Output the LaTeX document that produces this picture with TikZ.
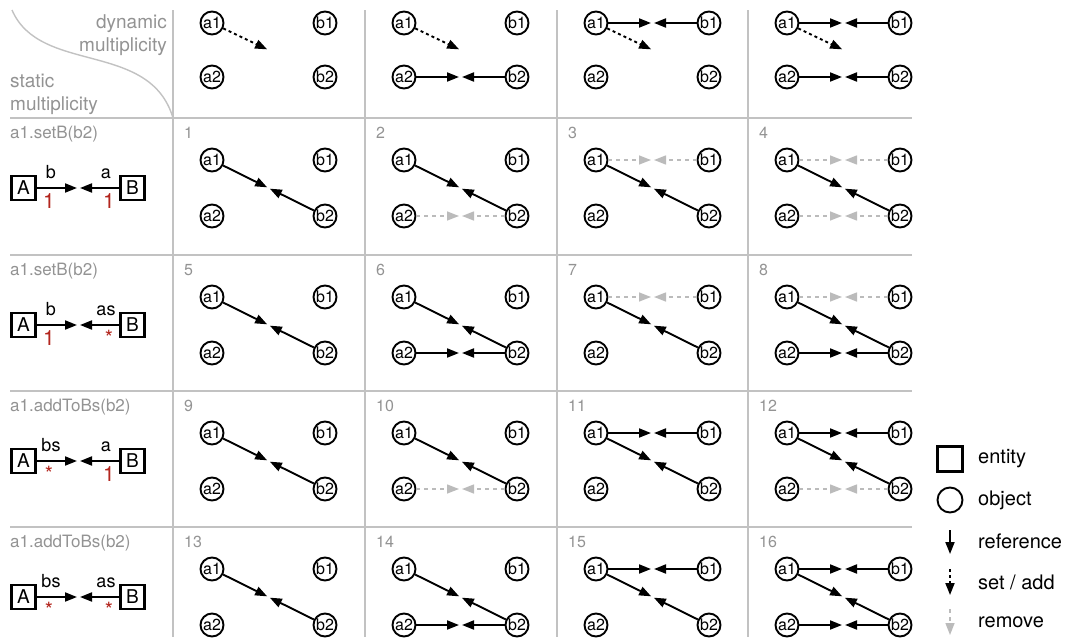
\documentclass[tikz,border=0pt]{standalone}
\usepackage{fontspec}
\setmainfont{TeX Gyre Heros}
\usetikzlibrary{arrows.meta}
\definecolor{gridgray}{HTML}{C2C2C2}
\definecolor{labelgray}{HTML}{939393}
\definecolor{remgray}{HTML}{BBBBBB}
\definecolor{multred}{HTML}{B3261E}
\newcommand{\fsz}[1]{\fontsize{#1}{#1}\selectfont}

\newcommand{\objs}[2]{%
  \node[obj] (a1) at (39,#1) {a1};
  \node[obj] (b1) at (152,#1) {b1};
  \node[obj] (a2) at (39,#2) {a2};
  \node[obj] (b2) at (152,#2) {b2};
  \coordinate (mt) at (95.5,#1);
  \coordinate (mb) at (95.5,#2);
  \path (mt) -- (mb) coordinate[midway] (md);}
\newcommand{\link}[4]{\draw[#1] (#2) -- (#4); \draw[#1] (#3) -- (#4);}
\newcommand{\head}[2]{%
  \begin{scope}[shift={(#1,0)},name prefix=h#1-]
    \objs{23}{77}
    #2
    \draw[setadd] (a1) -- (md);
  \end{scope}}
\newcommand{\cell}[4]{%
  \begin{scope}[shift={(#1,#2)},name prefix=c#3-]
    \node[cellnum] (num) at (11,20) {#3};
    \objs{42}{98}
    \link{ref}{a1}{b2}{md}
    #4
  \end{scope}}
\newcommand{\entity}[7]{%
  \begin{scope}[shift={(0,#2)},name prefix=#1-]
    \node[call] (call) at (10,20) {#3};
    \node[ent] (A) at (23.5,70) {A};
    \node[ent] (B) at (132.5,70) {B};
    \coordinate (m) at (78.5,70);
    \draw[ref] (A) -- (m); \draw[ref] (B) -- (m);
    \node[role] (roleA) at (51,60) {#4};
    \node[mult] (multA) at (49,75) {#5};
    \node[role] (roleB) at (106,60) {#6};
    \node[mult] (multB) at (109,75) {#7};
  \end{scope}}

\begin{document}
\begin{tikzpicture}[x=1pt,y=-1pt,
  obj/.style={draw,circle,line width=1.9pt,minimum size=23pt,inner sep=0pt,font=\fsz{16}},
  ent/.style={draw,rectangle,line width=2.5pt,minimum size=24pt,inner sep=0pt,font=\fsz{19}},
  ref/.style={line width=1.9pt,-{Triangle[length=12pt,width=9pt]},shorten >=1.5pt},
  setadd/.style={ref,dash pattern=on 3pt off 3pt},
  rem/.style={ref,line width=1.4pt,color=remgray,dash pattern=on 4pt off 4pt},
  grid/.style={draw=gridgray,line width=1.8pt},
  cellnum/.style={anchor=base west,inner sep=0pt,text=labelgray,font=\fsz{16}},
  call/.style={anchor=base west,inner sep=0pt,text=labelgray,font=\fsz{17}},
  head/.style={inner sep=0pt,text=labelgray,font=\fsz{19}},
  role/.style={anchor=base,inner sep=0pt,font=\fsz{18}},
  mult/.style={anchor=north,inner sep=0pt,text=multred,font=\fsz{21}},
  lgtext/.style={anchor=west,inner sep=0pt,font=\fsz{20}}]
 \useasboundingbox (0,0) rectangle (1070,637);
 \foreach \y in {118,255,391,527} \draw[grid] (10,\y) -- (912,\y);
 \foreach \x in {173,365,557,748} \draw[grid] (\x,10) -- (\x,637);
 \draw[grid,line width=1.4pt] (12,10) .. controls (40,75) and (150,40) .. (173,118);
 \node[head,anchor=base east] (dyn1) at (167,28) {dynamic};
 \node[head,anchor=base east] (dyn2) at (167,51) {multiplicity};
 \node[head,anchor=base west] (stat1) at (10,87) {static};
 \node[head,anchor=base west] (stat2) at (10,110) {multiplicity};

 \head{173}{}
 \head{365}{\link{ref}{a2}{b2}{mb}}
 \head{557}{\link{ref}{a1}{b1}{mt}}
 \head{748}{\link{ref}{a1}{b1}{mt}\link{ref}{a2}{b2}{mb}}

 \entity{r1}{118}{a1.setB(b2)}{b}{1}{a}{1}
 \entity{r2}{255}{a1.setB(b2)}{b}{1}{as}{*}
 \entity{r3}{391}{a1.addToBs(b2)}{bs}{*}{a}{1}
 \entity{r4}{527}{a1.addToBs(b2)}{bs}{*}{as}{*}

 \cell{173}{118}{1}{}
 \cell{365}{118}{2}{\link{rem}{a2}{b2}{mb}}
 \cell{557}{118}{3}{\link{rem}{a1}{b1}{mt}}
 \cell{748}{118}{4}{\link{rem}{a1}{b1}{mt}\link{rem}{a2}{b2}{mb}}
 \cell{173}{255}{5}{}
 \cell{365}{255}{6}{\link{ref}{a2}{b2}{mb}}
 \cell{557}{255}{7}{\link{rem}{a1}{b1}{mt}}
 \cell{748}{255}{8}{\link{rem}{a1}{b1}{mt}\link{ref}{a2}{b2}{mb}}
 \cell{173}{391}{9}{}
 \cell{365}{391}{10}{\link{rem}{a2}{b2}{mb}}
 \cell{557}{391}{11}{\link{ref}{a1}{b1}{mt}}
 \cell{748}{391}{12}{\link{ref}{a1}{b1}{mt}\link{rem}{a2}{b2}{mb}}
 \cell{173}{527}{13}{}
 \cell{365}{527}{14}{\link{ref}{a2}{b2}{mb}}
 \cell{557}{527}{15}{\link{ref}{a1}{b1}{mt}}
 \cell{748}{527}{16}{\link{ref}{a1}{b1}{mt}\link{ref}{a2}{b2}{mb}}

 \node[ent,minimum size=25pt] (lgent) at (950,459) {};
 \node[lgtext] (lgentT) at (978,459) {entity};
 \node[obj,minimum size=25pt] (lgobj) at (950,500) {};
 \node[lgtext] (lgobjT) at (978,500) {object};
 \coordinate (lgref1) at (950,530); \coordinate (lgref2) at (950,554);
 \draw[ref,shorten >=0pt] (lgref1) -- (lgref2);
 \node[lgtext] (lgrefT) at (978,541) {reference};
 \coordinate (lgset1) at (950,569); \coordinate (lgset2) at (950,595);
 \draw[setadd,shorten >=0pt] (lgset1) -- (lgset2);
 \node[lgtext] (lgsetT) at (978,582) {set / add};
 \coordinate (lgrem1) at (950,609); \coordinate (lgrem2) at (950,635);
 \draw[rem,shorten >=0pt] (lgrem1) -- (lgrem2);
 \node[lgtext] (lgremT) at (978,622) {remove};
\end{tikzpicture}
\end{document}
